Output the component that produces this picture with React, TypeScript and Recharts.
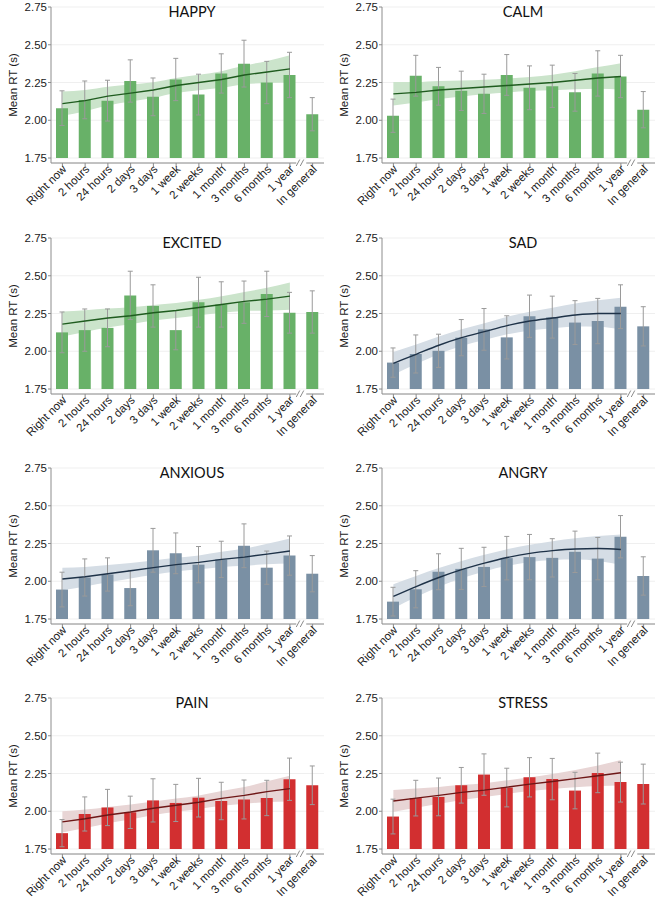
import React from "react";
import { ComposedChart, Bar, Line, Area, XAxis, YAxis, CartesianGrid, ErrorBar } from "recharts";

const categories = [
  "Right now", "2 hours", "24 hours", "2 days", "3 days", "1 week",
  "2 weeks", "1 month", "3 months", "6 months", "1 year", "In general",
];
const yTicks = [1.75, 2.0, 2.25, 2.5, 2.75];

// mean RT per time frame, upper end of the error bar, fitted trend + CI half width
const happyMean = [2.08, 2.135, 2.13, 2.26, 2.155, 2.27, 2.17, 2.31, 2.375, 2.25, 2.3, 2.04];
const happyHi = [2.195, 2.26, 2.265, 2.4, 2.28, 2.41, 2.305, 2.44, 2.53, 2.39, 2.45, 2.15];
const happyFit = [2.11, 2.13, 2.16, 2.18, 2.2, 2.23, 2.25, 2.27, 2.3, 2.32, 2.34];
const happyCi = [0.08, 0.07, 0.062, 0.056, 0.052, 0.05, 0.051, 0.055, 0.062, 0.073, 0.09];

const calmMean = [2.03, 2.295, 2.225, 2.195, 2.175, 2.3, 2.215, 2.225, 2.185, 2.31, 2.29, 2.07];
const calmHi = [2.14, 2.43, 2.35, 2.325, 2.305, 2.435, 2.36, 2.365, 2.31, 2.46, 2.43, 2.19];
const calmFit = [2.175, 2.185, 2.2, 2.21, 2.22, 2.23, 2.24, 2.25, 2.265, 2.28, 2.29];
const calmCi = [0.078, 0.068, 0.06, 0.053, 0.048, 0.046, 0.047, 0.052, 0.06, 0.072, 0.088];

const excitedMean = [2.125, 2.14, 2.155, 2.37, 2.3, 2.14, 2.325, 2.31, 2.325, 2.38, 2.255, 2.26];
const excitedHi = [2.26, 2.28, 2.28, 2.53, 2.44, 2.27, 2.49, 2.46, 2.465, 2.53, 2.39, 2.4];
const excitedFit = [2.18, 2.2, 2.22, 2.235, 2.255, 2.27, 2.29, 2.31, 2.33, 2.345, 2.365];
const excitedCi = [0.083, 0.072, 0.063, 0.056, 0.052, 0.05, 0.051, 0.055, 0.063, 0.075, 0.09];

const sadMean = [1.925, 1.982, 2.003, 2.09, 2.145, 2.092, 2.232, 2.226, 2.19, 2.2, 2.295, 2.165];
const sadHi = [2.022, 2.108, 2.113, 2.21, 2.283, 2.235, 2.372, 2.365, 2.335, 2.35, 2.44, 2.295];
const sadFit = [1.92, 1.98, 2.04, 2.09, 2.13, 2.17, 2.2, 2.22, 2.24, 2.25, 2.25];
const sadCi = [0.075, 0.065, 0.058, 0.055, 0.055, 0.058, 0.062, 0.068, 0.076, 0.088, 0.105];

const anxiousMean = [1.945, 2.025, 2.045, 1.955, 2.205, 2.185, 2.11, 2.145, 2.235, 2.09, 2.17, 2.05];
const anxiousHi = [2.06, 2.148, 2.155, 2.072, 2.35, 2.32, 2.23, 2.265, 2.38, 2.2, 2.3, 2.17];
const anxiousFit = [2.015, 2.03, 2.05, 2.07, 2.09, 2.11, 2.125, 2.145, 2.16, 2.18, 2.2];
const anxiousCi = [0.075, 0.065, 0.057, 0.051, 0.047, 0.045, 0.046, 0.05, 0.057, 0.068, 0.083];

const angryMean = [1.865, 1.947, 2.063, 2.082, 2.095, 2.153, 2.16, 2.155, 2.195, 2.15, 2.295, 2.035];
const angryHi = [1.96, 2.07, 2.182, 2.218, 2.225, 2.297, 2.31, 2.282, 2.332, 2.29, 2.435, 2.162];
const angryFit = [1.9, 1.965, 2.025, 2.077, 2.12, 2.157, 2.185, 2.203, 2.214, 2.217, 2.21];
const angryCi = [0.08, 0.07, 0.062, 0.057, 0.055, 0.055, 0.057, 0.062, 0.07, 0.082, 0.1];

const painMean = [1.855, 1.982, 2.025, 1.993, 2.072, 2.055, 2.09, 2.068, 2.078, 2.088, 2.212, 2.172];
const painHi = [1.945, 2.095, 2.145, 2.1, 2.215, 2.178, 2.218, 2.192, 2.207, 2.205, 2.352, 2.3];
const painFit = [1.93, 1.95, 1.975, 1.995, 2.02, 2.04, 2.06, 2.085, 2.105, 2.13, 2.15];
const painCi = [0.07, 0.061, 0.054, 0.049, 0.045, 0.044, 0.045, 0.049, 0.056, 0.068, 0.085];

const stressMean = [1.965, 2.087, 2.095, 2.172, 2.243, 2.157, 2.225, 2.213, 2.137, 2.254, 2.193, 2.18];
const stressHi = [2.08, 2.205, 2.22, 2.29, 2.38, 2.285, 2.355, 2.35, 2.258, 2.385, 2.325, 2.312];
const stressFit = [2.068, 2.087, 2.105, 2.125, 2.14, 2.16, 2.18, 2.197, 2.216, 2.235, 2.255];
const stressCi = [0.073, 0.064, 0.056, 0.05, 0.046, 0.045, 0.046, 0.05, 0.057, 0.068, 0.085];

const palette = {
  green: { bar: "#68b168", band: "#cbe4cb", line: "#1f5c1f" },
  blue: { bar: "#7a90a4", band: "#d5dde5", line: "#1e3248" },
  red: { bar: "#d22f30", band: "#e8d5d5", line: "#6e1616" },
};

type Tone = keyof typeof palette;
type PanelDef = { title: string; mean: number[]; hi: number[]; fit: number[]; ci: number[]; tone: Tone; curved?: boolean };

const panels: PanelDef[] = [
  { title: "HAPPY", mean: happyMean, hi: happyHi, fit: happyFit, ci: happyCi, tone: "green" },
  { title: "CALM", mean: calmMean, hi: calmHi, fit: calmFit, ci: calmCi, tone: "green" },
  { title: "EXCITED", mean: excitedMean, hi: excitedHi, fit: excitedFit, ci: excitedCi, tone: "green" },
  { title: "SAD", mean: sadMean, hi: sadHi, fit: sadFit, ci: sadCi, tone: "blue", curved: true },
  { title: "ANXIOUS", mean: anxiousMean, hi: anxiousHi, fit: anxiousFit, ci: anxiousCi, tone: "blue" },
  { title: "ANGRY", mean: angryMean, hi: angryHi, fit: angryFit, ci: angryCi, tone: "blue", curved: true },
  { title: "PAIN", mean: painMean, hi: painHi, fit: painFit, ci: painCi, tone: "red" },
  { title: "STRESS", mean: stressMean, hi: stressHi, fit: stressFit, ci: stressCi, tone: "red" },
];

const FONT = '"Liberation Sans", Arial, Helvetica, sans-serif';
const AXIS = "#8c8c8c";
const rowTops = [0, 231, 461, 691];

function buildRows(p: PanelDef) {
  return categories.map((cat, i) => ({
    cat,
    bar: [1.75, p.mean[i]],
    err: Math.round((p.hi[i] - p.mean[i]) * 1000) / 1000,
    fit: i < p.fit.length ? p.fit[i] : null,
    band: i < p.ci.length ? [p.fit[i] - p.ci[i], p.fit[i] + p.ci[i]] : null,
  }));
}

function CatTick(props: any) {
  const { x, y, payload } = props;
  const off = payload && payload.offset ? payload.offset : 11.4;
  const isBreak = payload && payload.value === "In general";
  const ay = y - 6; // axis line
  const bx = x - off;
  const tx = x + 2;
  const ty = y - 2;
  return (
    <g>
      {isBreak && (
        <g>
          <rect x={bx - 5} y={ay - 1.5} width={10} height={3} fill="#fff" />
          <line x1={bx - 5} y1={ay + 3} x2={bx - 1.5} y2={ay - 3.5} stroke={AXIS} strokeWidth={1} />
          <line x1={bx - 1} y1={ay + 3} x2={bx + 2.5} y2={ay - 3.5} stroke={AXIS} strokeWidth={1} />
        </g>
      )}
      <text
        x={tx}
        y={ty}
        dy="0.35em"
        transform={`rotate(-45 ${tx} ${ty})`}
        textAnchor="end"
        fontSize={11.5}
        fontFamily={FONT}
        fill="#1a1a1a"
      >
        {payload.value}
      </text>
    </g>
  );
}

function Panel({ p }: { p: PanelDef }) {
  const c = palette[p.tone];
  const rows = buildRows(p);
  return (
    <ComposedChart width={330} height={230} data={rows} margin={{ top: 7, right: 6, left: 0, bottom: 0 }}>
      <CartesianGrid horizontal vertical={false} stroke="#efefef" />
      <XAxis
        dataKey="cat"
        type="category"
        interval={0}
        height={67}
        tickSize={4}
        tickMargin={2}
        axisLine={{ stroke: AXIS }}
        tickLine={{ stroke: AXIS }}
        tick={(t: any) => <CatTick {...t} />}
      />
      <YAxis
        type="number"
        domain={[1.717, 2.75]}
        ticks={yTicks}
        allowDataOverflow
        width={51}
        tickSize={3}
        tickMargin={1}
        axisLine={{ stroke: AXIS }}
        tickLine={{ stroke: AXIS }}
        tickFormatter={(v: number) => v.toFixed(2)}
        tick={{ fontSize: 11.5, fill: "#1a1a1a", fontFamily: FONT }}
        label={{
          value: "Mean RT (s)",
          angle: -90,
          position: "insideLeft",
          offset: 13,
          style: { textAnchor: "middle", fontSize: 11.5, fill: "#1a1a1a", fontFamily: FONT },
        }}
      />
      <Area
        dataKey="band"
        type="monotone"
        stroke="none"
        fill={c.band}
        fillOpacity={1}
        dot={false}
        activeDot={false}
        isAnimationActive={false}
      />
      <Bar dataKey="bar" fill={c.bar} barSize={12} isAnimationActive={false}>
        <ErrorBar dataKey="err" width={2.5} stroke="#9a9a9a" strokeWidth={1} direction="y" />
      </Bar>
      <Line
        dataKey="fit"
        type={p.curved ? "monotone" : "linear"}
        stroke={c.line}
        strokeWidth={1.4}
        dot={false}
        activeDot={false}
        isAnimationActive={false}
      />
    </ComposedChart>
  );
}

export default function App() {
  return (
    <div style={{ position: "absolute", left: 0, top: 0, width: 660, height: 900, overflow: "hidden", background: "#fff" }}>
      {panels.map((p, i) => {
        const col = i % 2;
        const row = Math.floor(i / 2);
        return (
          <div key={p.title} style={{ position: "absolute", left: col * 331, top: rowTops[row], width: 330, height: 230 }}>
            <Panel p={p} />
            <div
              style={{
                position: "absolute",
                left: 92,
                width: 200,
                top: 3,
                textAlign: "center",
                fontFamily: "Lato, sans-serif",
                fontSize: 14.5,
                color: "#111",
                pointerEvents: "none",
              }}
            >
              {p.title}
            </div>
          </div>
        );
      })}
    </div>
  );
}
